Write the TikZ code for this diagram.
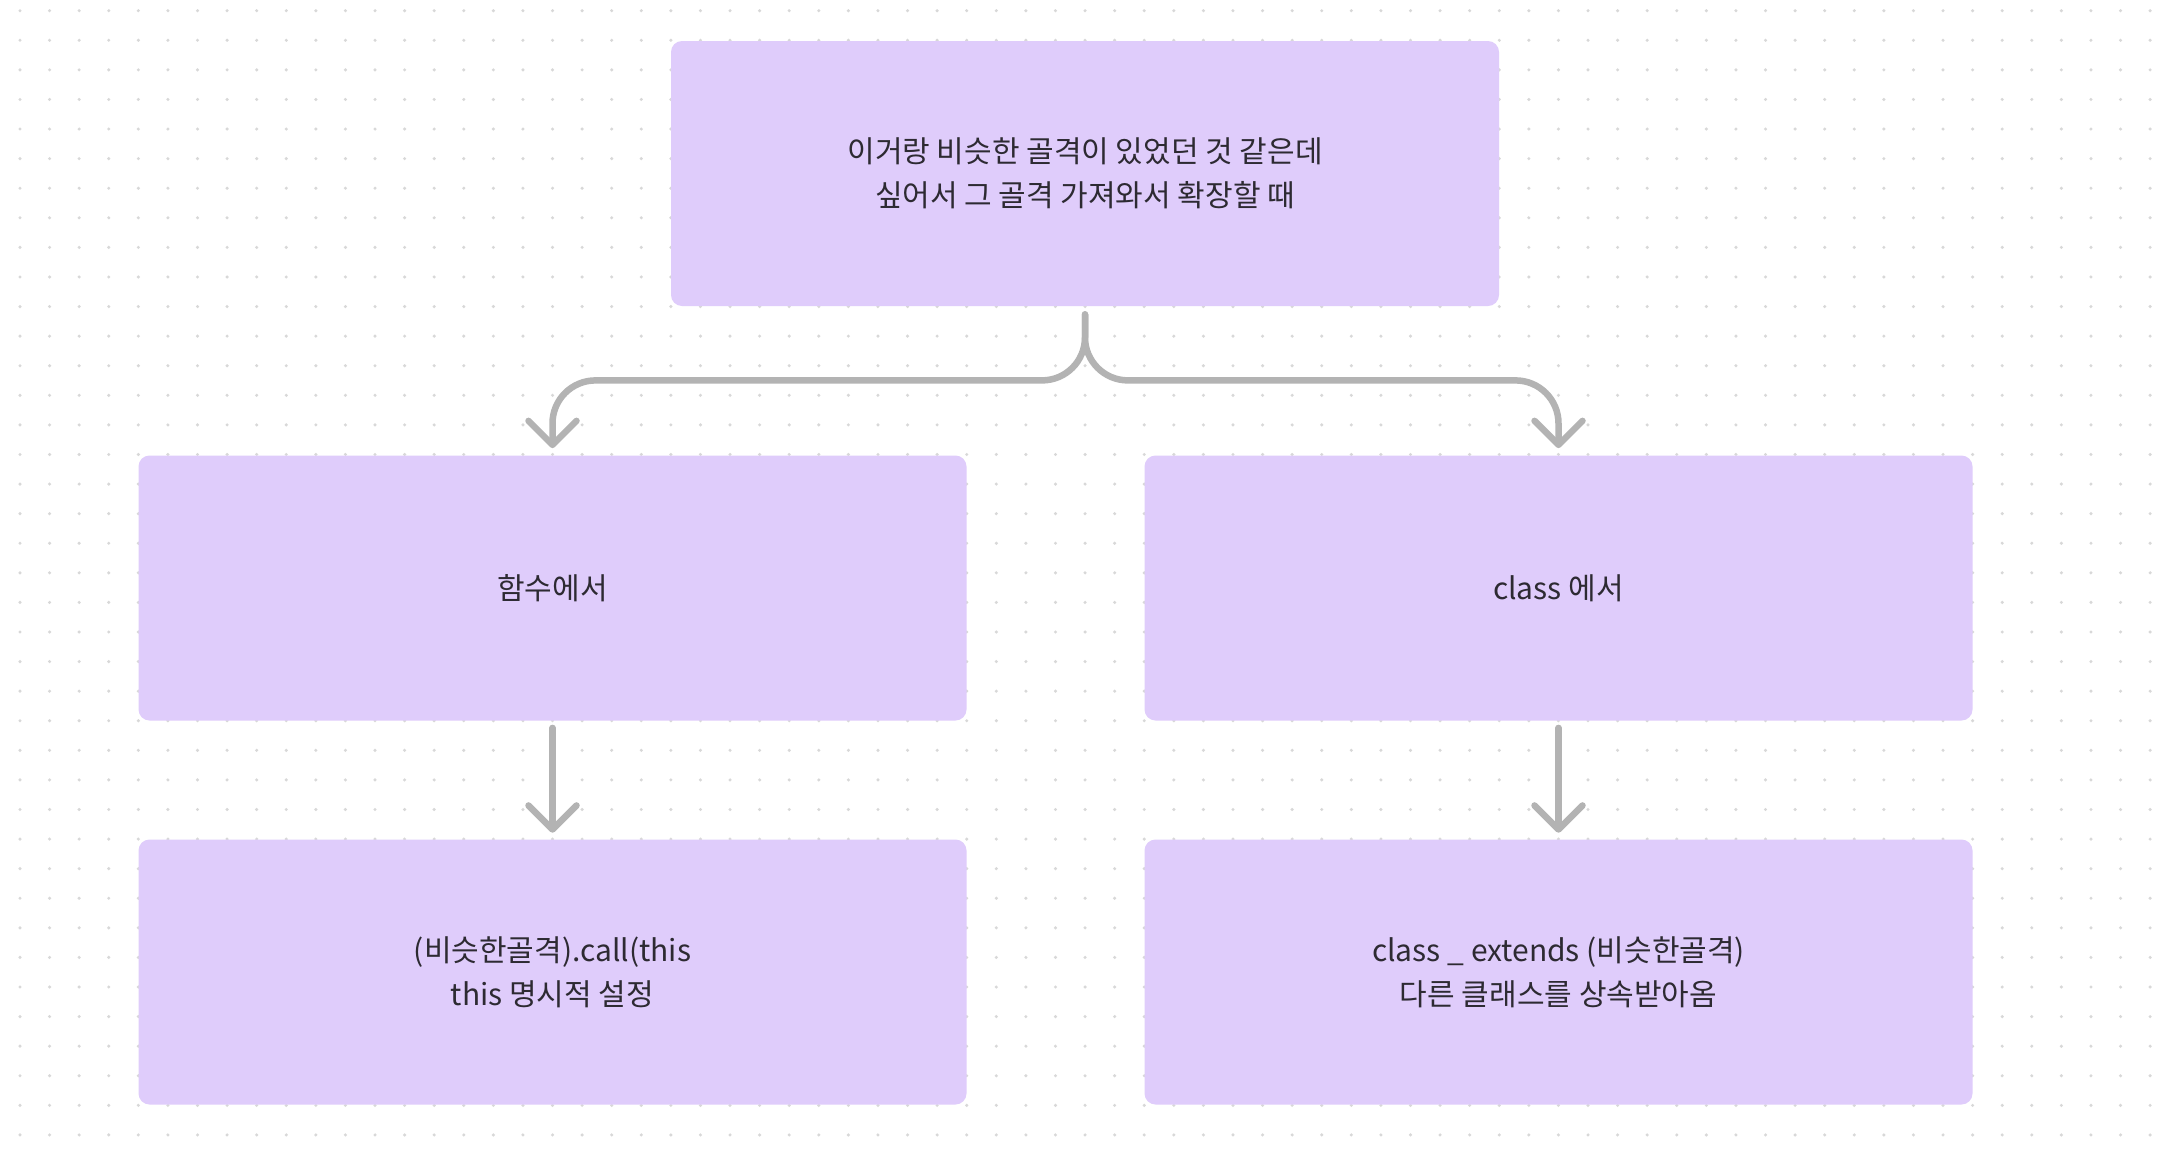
\documentclass[tikz,border=0pt]{standalone}
\usepackage{fontspec}
\setmainfont{Noto Sans CJK KR}
\usetikzlibrary{arrows.meta}
\definecolor{boxc}{HTML}{DFCCFB}
\definecolor{linec}{HTML}{B3B3B3}
\definecolor{txtc}{HTML}{2D2A32}
\definecolor{dotc}{HTML}{D8D8D8}
\tikzset{
  card/.style={fill=boxc, draw=none, rounded corners=5.5pt, minimum width=414pt, minimum height=132.5pt,
    align=center, text=txtc, font=\fontsize{15}{22}\selectfont, inner sep=0pt},
  conn/.style={draw=linec, line width=3.25pt, line cap=round, line join=round,
    -{Straight Barb[length=12pt,width=24pt,round]}},
}
\begin{document}
\begin{tikzpicture}[x=0.5pt,y=-0.5pt]
\useasboundingbox (0,0) rectangle (2160,1162);
\fill[white] (0,0) rectangle (2160,1162);
\foreach \i in {0,...,72}{
  \foreach \j in {0,...,38}{
    \fill[dotc] (20+\i*29.585, 10.7+\j*29.585) circle[radius=0.85pt];
  }
}
\node[card] (top) at (1085,173.5) {이거랑 비슷한 골격이 있었던 것 같은데\\싶어서 그 골격 가져와서 확장할 때};
\node[card] (fn) at (552.5,588) {함수에서};
\node[card] (cls) at (1558.5,588) {class 에서};
\node[card] (call) at (552.5,972) {(비슷한골격).call(this\\this 명시적 설정};
\node[card] (ext) at (1558.5,972) {class \_ extends (비슷한골격)\\다른 클래스를 상속받아옴};
\coordinate (jl) at ([yshift=-37pt]top.south -| fn.north);
\coordinate (jr) at ([yshift=-37pt]top.south -| cls.north);
\draw[conn, rounded corners=21.5pt] ([yshift=-4pt]top.south) |- (jl) -- ([yshift=3.5pt]fn.north);
\draw[conn, rounded corners=21.5pt] ([yshift=-4pt]top.south) |- (jr) -- ([yshift=3.5pt]cls.north);
\draw[conn] ([yshift=-3.5pt]fn.south) -- ([yshift=3.2pt]call.north);
\draw[conn] ([yshift=-3.5pt]cls.south) -- ([yshift=3.2pt]ext.north);
\end{tikzpicture}
\end{document}
